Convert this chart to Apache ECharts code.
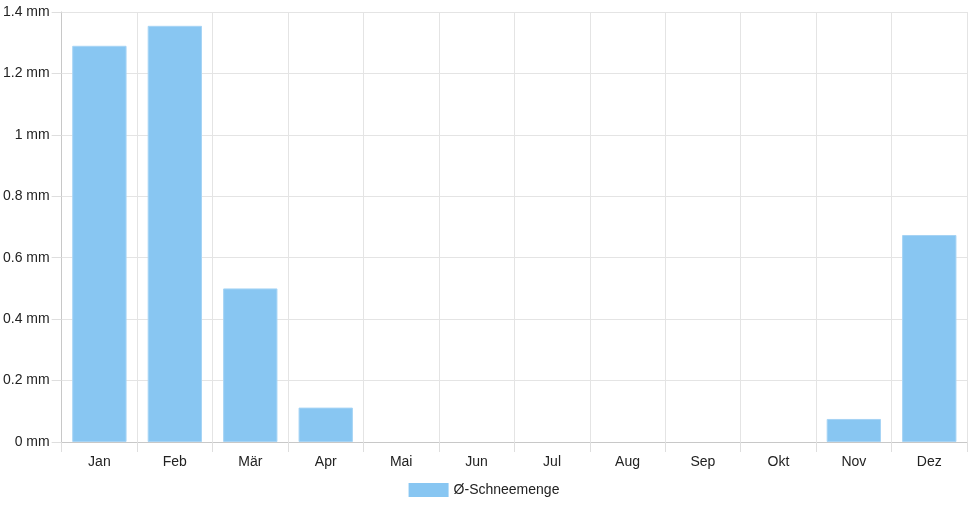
<!DOCTYPE html>
<html>
<head>
<meta charset="utf-8">
<script src="https://cdn.jsdelivr.net/npm/echarts@6/dist/echarts.min.js"></script>
<style>
  html, body { margin: 0; padding: 0; background: #fff; }
  #chart { width: 968px; height: 508px; }
</style>
</head>
<body>
<div id="chart"></div>
<script>
// Monthly data
const months = ["Jan", "Feb", "Mär", "Apr", "Mai", "Jun", "Jul", "Aug", "Sep", "Okt", "Nov", "Dez"];
const snowAmount = [1.29, 1.355, 0.5, 0.112, 0, 0, 0, 0, 0, 0, 0.075, 0.674];
const seriesName = "Ø-Schneemenge";

const chart = echarts.init(document.getElementById("chart"));

// no border on empty months, so they stay invisible
const barData = snowAmount.map((v) =>
  v === 0 ? { value: v, itemStyle: { borderWidth: 0 } } : v
);

const option = {
  animation: false,
  textStyle: { fontFamily: "Liberation Sans, Arial, sans-serif" },
  grid: { left: 61, right: 1, top: 12, bottom: 66 },
  legend: {
    top: 478,
    left: "center",
    icon: "rect",
    itemWidth: 40,
    itemHeight: 14,
    itemGap: 10,
    itemStyle: { borderWidth: 0 },
    textStyle: { fontSize: 14, color: "#222" },
    data: [seriesName]
  },
  xAxis: {
    type: "category",
    data: months,
    axisLine: { lineStyle: { color: "#c8c8c8" } },
    axisTick: { show: true, length: 10, lineStyle: { color: "#dedede" } },
    axisLabel: { color: "#222", fontSize: 14, margin: 13 },
    splitLine: { show: true, lineStyle: { color: "#e4e4e4" } }
  },
  yAxis: {
    type: "value",
    min: 0,
    max: 1.4,
    interval: 0.2,
    axisLine: { show: true, lineStyle: { color: "#c8c8c8" } },
    axisTick: { show: true, length: 10, lineStyle: { color: "#dedede" } },
    axisLabel: {
      color: "#222",
      fontSize: 14,
      margin: 12,
      formatter: (v) => `${Math.round(v * 10) / 10} mm`
    },
    splitLine: { lineStyle: { color: "#e4e4e4" } }
  },
  series: [
    {
      name: seriesName,
      type: "bar",
      data: barData,
      barWidth: "72%",
      itemStyle: {
        color: "#88c6f2",
        borderColor: "#a6d4f5",
        borderWidth: 1
      }
    }
  ]
};

chart.setOption(option);
</script>
</body>
</html>
